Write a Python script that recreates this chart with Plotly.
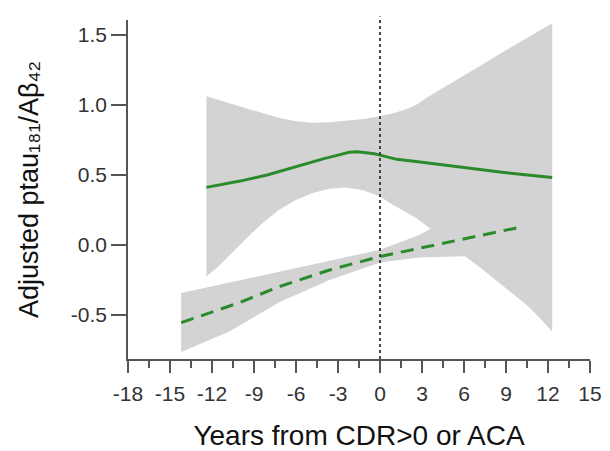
import plotly.graph_objects as go

# ---- data ----
solid_x = [-12.4, -10, -8, -6, -4, -3, -2.2, -1.6, -1, -0.4, 0, 0.6, 1.2, 3, 6, 9, 12.3]
solid_y = [0.41, 0.455, 0.50, 0.56, 0.615, 0.64, 0.66, 0.665, 0.66, 0.65, 0.64, 0.625, 0.61, 0.59, 0.55, 0.515, 0.48]

solid_band_x = [-12.4, -11.6, -10.8, -10, -9.2, -8.4, -7.2, -6, -4.8, -3.6, -2.45, -1.2, 0, 1, 1.83, 2.6, 3.5, 4.7, 6.1, 7.2, 8.26, 9.4, 10.6, 11.5, 12.3]
solid_upper = [1.06, 1.035, 1.01, 0.985, 0.96, 0.94, 0.905, 0.882, 0.872, 0.874, 0.885, 0.898, 0.917, 0.94, 0.965, 1.0, 1.06, 1.13, 1.215, 1.28, 1.345, 1.41, 1.48, 1.53, 1.58]
solid_lower = [-0.226, -0.16, -0.083, 0.0, 0.08, 0.155, 0.25, 0.32, 0.37, 0.40, 0.41, 0.39, 0.345, 0.28, 0.235, 0.19, 0.125, 0.035, -0.083, -0.165, -0.25, -0.34, -0.44, -0.53, -0.62]

dashed_x = [-14.2, -10, -7.2, -3.6, 0, 3, 6, 9.9]
dashed_y = [-0.555, -0.41, -0.298, -0.179, -0.083, -0.02, 0.042, 0.124]

dashed_band_x = [-14.2, -10.8, -7.2, -3.6, 0, 2.8, 3.7, 6.1, 9.9]
dashed_upper = [-0.343, -0.27, -0.19, -0.11, -0.035, 0.07, 0.12, 0.2, 0.33]
dashed_lower = [-0.764, -0.62, -0.41, -0.25, -0.125, -0.09, -0.088, -0.083, -0.07]

onset_year = 0

x_tick_vals = [-18, -15, -12, -9, -6, -3, 0, 3, 6, 9, 12, 15]
x_tick_text = ["-18", "-15", "-12", "-9", "-6", "-3", "0", "3", "6", "9", "12", "15"]
y_tick_vals = [-0.5, 0.0, 0.5, 1.0, 1.5]
y_tick_text = ["-0.5", "0.0", "0.5", "1.0", "1.5"]

x_title = "Years from CDR>0 or ACA"
y_title = "Adjusted ptau₁₈₁/Aβ₄₂"

# ---- figure ----
band_color = "#d3d3d3"
line_color = "#2b8a2b"
font_family = "Liberation Sans, Arial, sans-serif"

fig = go.Figure()
fig.add_trace(go.Scatter(
    x=solid_band_x + solid_band_x[::-1],
    y=solid_upper + solid_lower[::-1],
    fill="toself", fillcolor=band_color, line=dict(width=0),
    mode="lines", hoverinfo="skip", showlegend=False))
fig.add_trace(go.Scatter(
    x=dashed_band_x + dashed_band_x[::-1],
    y=dashed_upper + dashed_lower[::-1],
    fill="toself", fillcolor=band_color, line=dict(width=0),
    mode="lines", hoverinfo="skip", showlegend=False))
fig.add_trace(go.Scatter(
    x=solid_x, y=solid_y, mode="lines",
    line=dict(color=line_color, width=3),
    showlegend=False))
fig.add_trace(go.Scatter(
    x=dashed_x, y=dashed_y, mode="lines",
    line=dict(color=line_color, width=3, dash="13px,8px"),
    showlegend=False))

fig.add_shape(type="line", xref="x", yref="paper",
              x0=onset_year, x1=onset_year, y0=0, y1=1.01,
              line=dict(color="#333333", width=1.8, dash="dot"))

axis_color = "#555555"
fig.update_layout(
    width=610, height=451,
    margin=dict(l=128, r=20, t=20, b=92),
    paper_bgcolor="white", plot_bgcolor="white",
    font=dict(family=font_family, color="#000000"),
    xaxis=dict(
        range=[-18, 15], showgrid=False, zeroline=False, automargin=False,
        showline=True, linecolor=axis_color, linewidth=1.5,
        tickmode="array", tickvals=x_tick_vals, ticktext=x_tick_text,
        ticks="outside", ticklen=12, tickwidth=1.5, tickcolor=axis_color,
        tickfont=dict(size=21, color="#333333"), ticklabelstandoff=3,
        minor=dict(dtick=1.5, tick0=-18, ticks="outside", ticklen=7,
                   tickwidth=1.5, tickcolor=axis_color),
        title=dict(text=x_title, font=dict(size=28, color="#111111"), standoff=21),
    ),
    yaxis=dict(
        range=[-0.814, 1.604], showgrid=False, zeroline=False, automargin=False,
        showline=True, linecolor=axis_color, linewidth=1.5,
        tickmode="array", tickvals=y_tick_vals, ticktext=y_tick_text,
        ticks="outside", ticklen=15, tickwidth=1.5, tickcolor=axis_color,
        tickfont=dict(size=21, color="#333333"),
        title=dict(text=y_title, font=dict(size=27, color="#111111"), standoff=24),
    ),
)

fig.write_html(
    "out.html",
    config={"displayModeBar": False},
    post_script="document.body.style.margin='0px';document.body.style.overflow='hidden';",
)
